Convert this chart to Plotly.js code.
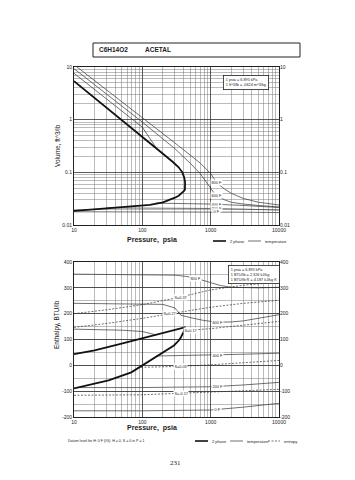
<!DOCTYPE html>
<html><head><meta charset="utf-8">
<script src="https://cdn.plot.ly/plotly-3.0.1.min.js"></script>
<style>html,body{margin:0;padding:0;background:#fff}#c{width:355px;height:480px}</style>
</head><body><div id="c"></div>
<script>
// ---------- Volume chart data (P in psia, V in ft^3/lb) ----------
const pSatVapV = [10, 50, 129, 200, 280, 340, 385, 410, 422, 425];
const vSatVap  = [5.4, 1.0, 0.36, 0.225, 0.157, 0.125, 0.1, 0.08, 0.065, 0.053];
const pSatLiqV = [10, 24, 50, 129, 200, 254, 300, 340, 381, 405, 420, 425];
const vSatLiq  = [0.0186, 0.0202, 0.0215, 0.024, 0.027, 0.030, 0.033, 0.036, 0.041, 0.044, 0.047, 0.053];
const pV800 = [10, 30, 100, 300, 700, 1000, 1230, 1600, 2000, 3000, 5000, 10000];
const vV800 = [11.1, 3.7, 1.1, 0.36, 0.151, 0.095, 0.063, 0.048, 0.040, 0.032, 0.027, 0.024];
const pV600 = [10, 30, 100, 300, 500, 700, 900, 1100, 1230, 1600, 2000, 3000, 5000, 10000];
const vV600 = [9.3, 3.05, 0.9, 0.28, 0.15, 0.095, 0.06, 0.042, 0.036, 0.030, 0.027, 0.025, 0.0235, 0.022];
const pV400 = [10, 30, 100, 160, null, 158, 300, 1000, 3000, 10000];
const vV400 = [7.6, 2.5, 0.72, 0.29, null, 0.026, 0.0258, 0.025, 0.0235, 0.0215];
const pV200 = [30, 100, 1000, 3000, 10000];
const vV200 = [0.0211, 0.0210, 0.0206, 0.0200, 0.0192];
const pV0 = [10, 100, 1000, 3000, 10000];
const vV0 = [0.0178, 0.0178, 0.0177, 0.0175, 0.0172];
const volTempLabels = ["800 F", "600 F", "400 F", "200 F", "0 F"];
const volLabelP = [1230, 1230, 1230, 1230, 1230];
const volLabelV = [0.063, 0.036, 0.025, 0.0206, 0.0177];

// ---------- Enthalpy chart data (P in psia, H in BTU/lb) ----------
const pSatVapH = [10, 20, 45, 87, 190, 280, 330, 370, 395, 408, 415];
const hSatVap  = [43, 58, 81, 101, 124, 137, 143, 146, 148, 148, 147];
const pSatLiqH = [10, 32, 69, 97, 188, 290, 344, 367, 400, 412, 415];
const hSatLiq  = [-89, -58, -27, 0, 46, 77, 97, 109, 128, 140, 147];
const pH800 = [10, 100, 300, 450, 600, 800, 1000, 1400, 2000, 3000, 5000, 10000];
const hH800 = [353, 352, 349, 344, 337, 328, 320, 309, 302, 300, 300, 302];
const pH600 = [10, 100, 200, 300, 367, 500, 780, 1260, 2000, 3000, 5000, 10000];
const hH600 = [240, 239, 236, 222, 194, 185, 174, 167, 168, 172, 182, 196];
const pH400 = [10, 50, 100, 158, null, 158, 300, 1260, 3000, 10000];
const hH400 = [140, 136, 131, 118, null, 36, 37, 39, 43, 47];
const pH200 = [12, 100, 1000, 1260, 3000, 10000];
const hH200 = [-86, -86, -83, -81, -76, -66];
const pH0 = [10, 100, 1000, 1260, 3000, 10000];
const hH0 = [-176, -176, -173, -171, -162, -147];
const pS037 = [10, 30, 100, 330, 1000, 3000, 10000];
const hS037 = [200, 215, 235, 262, 292, 310, 322];
const pS027 = [10, 30, 100, 247, 500, 1000, 3000, 10000];
const hS027 = [147, 162, 182, 200, 212, 225, 240, 252];
const pS017 = [415, 500, 1000, 3000, 10000];
const hS017 = [142, 136, 142, 155, 170];
const pS003 = [85, 200, 367, 1000, 3000, 10000];
const hS003 = [-8, -6, -4, 2, 10, 19];
const pSm017 = [10, 100, 367, 1000, 3000, 10000];
const hSm017 = [-116, -114, -108, -104, -99, -93];
const entLabels = ["S=0.37", "S=0.27", "S=0.17", "S=0.03", "S=-0.17"];
const entLabelP = [367, 247, 500, 367, 367];
const entLabelH = [264, 200, 136, -4, -108];
const enthTempLabels = ["800 F", "600 F", "400 F", "200 F", "0 F"];
const enthLabelP = [600, 1260, 1260, 1260, 1260];
const enthLabelH = [337, 167, 39, -81, -171];

const xTickVals = [10, 100, 1000, 10000];
const xTickText = ["10", "100", "1000", "10000"];
const vTickVals = [0.01, 0.1, 1, 10];
const vTickText = ["0.01", "0.1", "1", "10"];
const hTickVals = [-200, -100, 0, 100, 200, 300, 400];
const hTickText = ["-200", "-100", "0", "100", "200", "300", "400"];

const thick = {color: '#111', width: 1.8};
const thin = {color: '#333', width: 0.7};
const dash = {color: '#333', width: 0.7, dash: '2px,1.5px'};

function tr(x, y, line, xa, ya) {
  return {x: x, y: y, mode: 'lines', line: line, xaxis: xa, yaxis: ya, hoverinfo: 'skip', showlegend: false, connectgaps: false};
}
const domeVx = pSatVapV.concat(pSatLiqV.slice().reverse());
const domeVy = vSatVap.concat(vSatLiq.slice().reverse());
const domeHx = pSatVapH.concat(pSatLiqH.slice().reverse());
const domeHy = hSatVap.concat(hSatLiq.slice().reverse());

const data = [
  tr(pV800, vV800, thin, 'x', 'y'),
  tr(pV600, vV600, thin, 'x', 'y'),
  tr(pV400, vV400, thin, 'x', 'y'),
  tr(pV200, vV200, thin, 'x', 'y'),
  tr(pV0, vV0, thin, 'x', 'y'),
  tr(domeVx, domeVy, thick, 'x', 'y'),
  tr(pH800, hH800, thin, 'x2', 'y2'),
  tr(pH600, hH600, thin, 'x2', 'y2'),
  tr(pH400, hH400, thin, 'x2', 'y2'),
  tr(pH200, hH200, thin, 'x2', 'y2'),
  tr(pH0, hH0, thin, 'x2', 'y2'),
  tr(pS037, hS037, dash, 'x2', 'y2'),
  tr(pS027, hS027, dash, 'x2', 'y2'),
  tr(pS017, hS017, dash, 'x2', 'y2'),
  tr(pS003, hS003, dash, 'x2', 'y2'),
  tr(pSm017, hSm017, dash, 'x2', 'y2'),
  tr(domeHx, domeHy, thick, 'x2', 'y2'),
  {x: [10, 10000], y: [0.01, 10], mode: 'lines', line: {width: 0}, xaxis: 'x', yaxis: 'y3', hoverinfo: 'skip', showlegend: false, opacity: 0},
  {x: [10, 10000], y: [-200, 400], mode: 'lines', line: {width: 0}, xaxis: 'x2', yaxis: 'y4', hoverinfo: 'skip', showlegend: false, opacity: 0}
];

const F = 'Liberation Sans, Arial, sans-serif';
const tickF = {family: F, size: 5, color: '#222'};
const xd = [74/355, 279/355];
const yd1 = [1 - 225/480, 1 - 67/480];
const yd2 = [1 - 417/480, 1 - 262/480];

function logX(anchor) {
  return {type: 'log', range: [1, 4], domain: xd, anchor: anchor,
    tickvals: xTickVals, ticktext: xTickText, tickfont: tickF, ticks: '', ticklen: 0,
    showline: true, linecolor: '#222', linewidth: 1, mirror: true,
    showgrid: true, gridcolor: '#333', gridwidth: 0.8,
    minor: {tickvals: [2,3,4,5,6,7,8,9,20,30,40,50,60,70,80,90,200,300,400,500,600,700,800,900,2000,3000,4000,5000,6000,7000,8000,9000], showgrid: true, gridcolor: '#777', gridwidth: 0.5, ticks: ''},
    zeroline: false, fixedrange: true};
}

const layout = {
  width: 355, height: 480, margin: {l: 0, r: 0, t: 0, b: 0},
  paper_bgcolor: '#fff', plot_bgcolor: '#fff', showlegend: false,
  font: {family: F, size: 5, color: '#222'},
  xaxis: logX('y'),
  xaxis2: logX('y2'),
  yaxis: {type: 'log', range: [-2, 1], domain: yd1, anchor: 'x',
    tickvals: vTickVals, ticktext: vTickText, tickfont: tickF, ticks: '',
    showline: true, linecolor: '#222', linewidth: 1, mirror: true,
    showgrid: true, gridcolor: '#333', gridwidth: 0.8,
    minor: {tickvals: [0.02,0.03,0.04,0.05,0.06,0.07,0.08,0.09,0.2,0.3,0.4,0.5,0.6,0.7,0.8,0.9,2,3,4,5,6,7,8,9], showgrid: true, gridcolor: '#777', gridwidth: 0.5, ticks: ''},
    zeroline: false, fixedrange: true},
  yaxis3: {type: 'log', range: [-2, 1], overlaying: 'y', side: 'right', anchor: 'x',
    tickvals: vTickVals, ticktext: vTickText, tickfont: tickF, ticks: '', showgrid: false, showline: false, zeroline: false},
  yaxis2: {range: [-200, 400], domain: yd2, anchor: 'x2',
    tickvals: hTickVals, ticktext: hTickText, tickfont: tickF, ticks: '',
    showline: true, linecolor: '#222', linewidth: 1, mirror: true,
    showgrid: true, gridcolor: '#333', gridwidth: 0.8,
    minor: {dtick: 50, showgrid: true, gridcolor: '#777', gridwidth: 0.5, ticks: ''},
    zeroline: false, fixedrange: true},
  yaxis4: {range: [-200, 400], overlaying: 'y2', side: 'right', anchor: 'x2',
    tickvals: hTickVals, ticktext: hTickText, tickfont: tickF, ticks: '', showgrid: false, showline: false, zeroline: false},
  shapes: [
    {type: 'rect', xref: 'paper', yref: 'paper', x0: 93/355, x1: 300/355, y0: 1 - 57/480, y1: 1 - 43/480, line: {color: '#222', width: 1}},
    {type: 'line', xref: 'paper', yref: 'paper', x0: 213/355, x1: 226/355, y0: 1 - 241/480, y1: 1 - 241/480, line: {color: '#111', width: 1.6}},
    {type: 'line', xref: 'paper', yref: 'paper', x0: 248/355, x1: 261/355, y0: 1 - 241/480, y1: 1 - 241/480, line: {color: '#333', width: 0.7}},
    {type: 'line', xref: 'paper', yref: 'paper', x0: 195/355, x1: 208/355, y0: 1 - 441/480, y1: 1 - 441/480, line: {color: '#111', width: 1.6}},
    {type: 'line', xref: 'paper', yref: 'paper', x0: 230/355, x1: 243/355, y0: 1 - 441/480, y1: 1 - 441/480, line: {color: '#333', width: 0.7}},
    {type: 'line', xref: 'paper', yref: 'paper', x0: 268/355, x1: 280/355, y0: 1 - 441/480, y1: 1 - 441/480, line: {color: '#333', width: 0.7, dash: '2px,1.5px'}}
  ],
  annotations: []
};

const A = layout.annotations;
function pa(x, y, text, opts) {
  A.push(Object.assign({xref: 'paper', yref: 'paper', x: x/355, y: 1 - y/480, text: text, showarrow: false,
    font: {family: F, size: 5, color: '#222'}, xanchor: 'left', yanchor: 'middle'}, opts || {}));
}
pa(97, 50, '<b>C6H14O2</b>', {font: {family: F, size: 6.5, color: '#222'}});
pa(143, 50, '<b>ACETAL</b>', {font: {family: F, size: 6.5, color: '#222'}});
pa(152, 240, '<b>Pressure,  psia</b>', {xanchor: 'center', font: {family: F, size: 7, color: '#222'}});
pa(152, 428, '<b>Pressure,  psia</b>', {xanchor: 'center', font: {family: F, size: 7, color: '#222'}});
pa(57, 146, 'Volume, ft^3/lb', {xanchor: 'center', textangle: -90, font: {family: F, size: 6.5, color: '#222'}});
pa(57, 325, 'Enthalpy, BTU/lb', {xanchor: 'center', textangle: -90, font: {family: F, size: 6.5, color: '#222'}});
pa(228, 241, '2 phase', {font: {family: F, size: 4, color: '#222'}});
pa(263, 241, 'temperature', {font: {family: F, size: 4, color: '#222'}});
pa(210, 441, '2 phase', {font: {family: F, size: 4, color: '#222'}});
pa(245, 441, 'temperature', {font: {family: F, size: 4, color: '#222'}});
pa(282, 441, 'entropy', {font: {family: F, size: 4, color: '#222'}});
pa(66, 441, 'Datum level for H: 0 F (IG), H = 0, S = 0 in P = 1', {font: {family: F, size: 3.6, color: '#222'}});
pa(175, 463, '231', {xanchor: 'center', font: {family: 'Liberation Serif, serif', size: 7, color: '#222'}});
pa(223, 82, '1 psia = 6.895 kPa<br>1 ft^3/lb = .0624 m^3/kg', {align: 'left', bgcolor: '#fff', bordercolor: '#222', borderwidth: 0.8, borderpad: 2, font: {family: F, size: 3.8, color: '#222'}});
pa(228, 274, '1 psia = 6.895 kPa<br>1 BTU/lb = 2.326 kJ/kg<br>1 BTU/lb R = 4.187 kJ/kg K', {align: 'left', bgcolor: '#fff', bordercolor: '#222', borderwidth: 0.8, borderpad: 2, font: {family: F, size: 3.8, color: '#222'}});

function dataLabel(xa, ya, x, y, text) {
  A.push({xref: xa, yref: ya, x: x, y: y, text: text, showarrow: false, bgcolor: '#fff',
    font: {family: F, size: 3.8, color: '#222'}, xanchor: 'center', yanchor: 'middle', borderpad: 0.5});
}
volTempLabels.forEach((t, i) => dataLabel('x', 'y', Math.log10(volLabelP[i]), Math.log10(volLabelV[i]), t));
enthTempLabels.forEach((t, i) => dataLabel('x2', 'y2', Math.log10(enthLabelP[i]), enthLabelH[i], t));
entLabels.forEach((t, i) => dataLabel('x2', 'y2', Math.log10(entLabelP[i]), entLabelH[i], t));

Plotly.newPlot('c', data, layout, {displayModeBar: false, staticPlot: true});
</script></body></html>
